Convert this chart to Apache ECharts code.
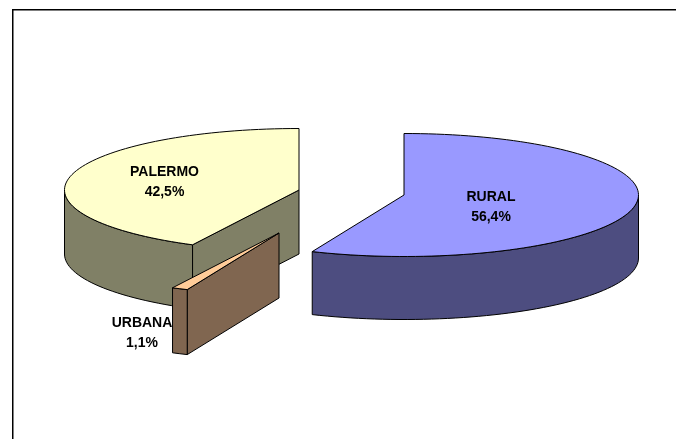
<!DOCTYPE html>
<html><head><meta charset="utf-8">
<style>html,body{margin:0;padding:0;background:#fff}#c{width:676px;height:439px}</style>
<script src="https://cdn.jsdelivr.net/npm/echarts@6/dist/echarts.min.js"></script>
</head><body><div id="c"></div>
<script>
const categories = ['RURAL', 'URBANA', 'PALERMO'];
const values = [56.4, 1.1, 42.5];
const valueLabels = ['56,4%', '1,1%', '42,5%'];

// Layout and style for each slice, separate from the data.
const centers = [[404, 195], [279, 233], [299, 190]];
const labelPos = [[491, 207], [142, 333], [164.5, 182]];
const topColors = ['#9999FF', '#FFCC99', '#FFFFCC'];
const sideColors = ['#4D4D80', '#806650', '#808066'];
const stacking = [0, 20, 10];
const depths = [63, 65, 64];
const RX = 234.5, RY = 61.5;
const total = values.reduce((a, b) => a + b, 0);

function pt(c, deg, dz) {
  const a = deg * Math.PI / 180;
  return [c[0] + RX * Math.sin(a), c[1] - RY * Math.cos(a) + (dz || 0)];
}
function arc(c, a0, a1, dz) {
  const n = Math.max(2, Math.ceil(Math.abs(a1 - a0) / 2));
  const out = [];
  for (let i = 0; i <= n; i++) out.push(pt(c, a0 + (a1 - a0) * i / n, dz));
  return out;
}
function poly(points, fill, z) {
  return { type: 'polygon', z2: z, shape: { points },
    style: { fill, stroke: '#000', lineWidth: 1, lineJoin: 'round' } };
}
let cumulative = [];
values.reduce((s, v, i) => (cumulative[i] = s, s + v), 0);

function renderItem(params, api) {
  const i = params.dataIndex;
  const v = api.value(0);
  const a0 = cumulative[i] / total * 360;
  const a1 = a0 + v / total * 360;
  const c = centers[i];
  const base = stacking[i];
  const d = depths[i];
  const children = [];
  // cut wall on the starting edge, visible when that edge faces the viewer
  if (a0 > 180) {
    const p = pt(c, a0);
    children.push(poly([c, p, [p[0], p[1] + d], [c[0], c[1] + d]], sideColors[i], base + 1));
  }
  // outer wall: only the part of the rim that faces the viewer
  const f0 = Math.max(a0, 90), f1 = Math.min(a1, 270);
  if (f1 > f0) {
    children.push(poly(arc(c, f0, f1, 0).concat(arc(c, f1, f0, d)), sideColors[i], base + 2));
  }
  // top face
  children.push(poly([c].concat(arc(c, a0, a1, 0)), topColors[i], base + 3));
  const l = labelPos[i];
  children.push({ type: 'text', z2: 50,
    style: { x: l[0], y: l[1], text: categories[i] + '\n' + valueLabels[i],
      align: 'center', verticalAlign: 'middle',
      font: 'bold 14px "Liberation Sans"', lineHeight: 20, fill: '#000' } });
  return { type: 'group', children };
}

const chart = echarts.init(document.getElementById('c'), null, { renderer: 'canvas' });
chart.setOption({
  animation: false,
  backgroundColor: '#fff',
  graphic: [{ type: 'rect', shape: { x: 12.75, y: 9.75, width: 700, height: 500 },
    style: { fill: 'none', stroke: '#000', lineWidth: 1.5 }, z: 0 }],
  series: [{
    type: 'custom', coordinateSystem: 'none', renderItem, z: 2,
    data: values.map(v => [v])
  }]
});
</script></body></html>
